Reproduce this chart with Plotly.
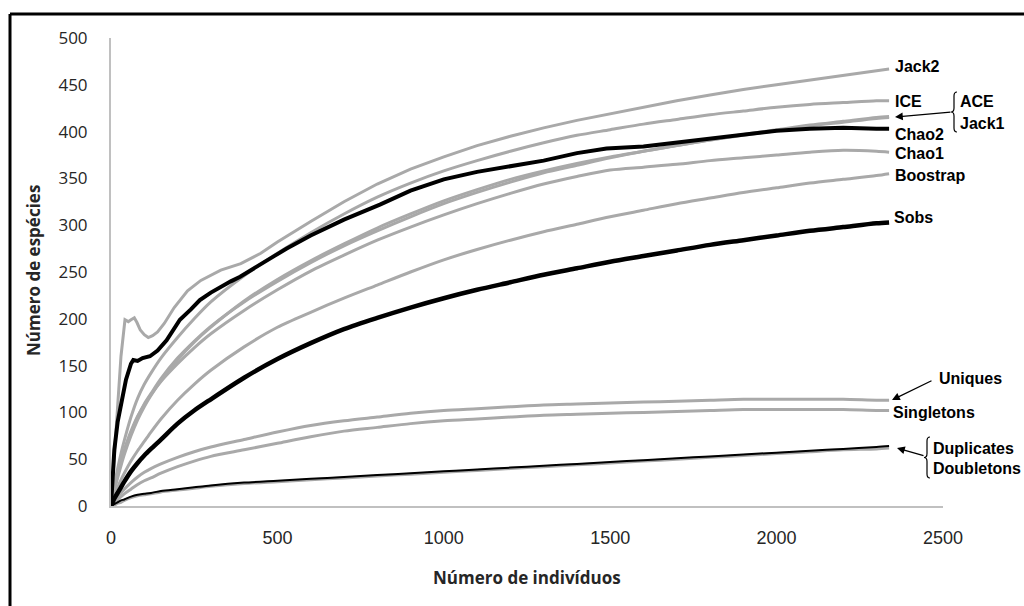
import plotly.graph_objects as go

# ---------------- data ----------------
x_common = [0, 10, 20, 30, 40, 60, 80, 100, 120, 150, 200, 250, 300, 400, 500, 600, 700, 800, 900,
            1000, 1100, 1200, 1300, 1400, 1500, 1600, 1700, 1800, 1900, 2000, 2100, 2200, 2300, 2338]

sobs = [0, 8, 14, 20, 26, 37, 46, 54, 61, 71, 88, 102, 114, 137, 157, 174, 189, 201, 212,
        222, 231, 239, 247, 254, 261, 267, 273, 279, 284, 289, 294, 298, 302, 303]
boostrap = [0, 11, 20, 28, 35, 48, 59, 69, 79, 93, 113, 130, 145, 170, 191, 207, 222, 236, 250,
            263, 274, 284, 293, 301, 309, 316, 323, 329, 335, 340, 345, 349, 353, 355]
ice = [0, 22, 40, 56, 70, 95, 115, 130, 142, 158, 180, 200, 218, 246, 270, 292, 312, 330, 345,
       358, 369, 379, 388, 396, 402, 408, 413, 418, 422, 426, 429, 431, 433, 433]
ace = [0, 16, 30, 43, 55, 75, 92, 106, 118, 134, 156, 175, 191, 219, 242, 262, 280, 297, 312,
       326, 338, 349, 358, 366, 373, 379, 385, 391, 396, 401, 406, 410, 414, 415]
jack1 = [0, 18, 33, 46, 58, 78, 95, 109, 120, 136, 158, 176, 192, 218, 240, 260, 278, 294, 309,
         323, 335, 346, 356, 364, 372, 379, 385, 391, 397, 402, 407, 411, 415, 416]
chao1 = [0, 19, 35, 48, 60, 80, 96, 108, 119, 133, 152, 169, 184, 209, 231, 251, 268, 284, 298,
         311, 323, 334, 344, 352, 359, 362, 365, 369, 372, 375, 378, 380, 379, 378]
uniques = [0, 5, 10, 14, 18, 25, 31, 36, 40, 45, 52, 58, 63, 71, 79, 86, 91, 95, 99,
           102, 104, 106, 108, 109, 110, 111, 112, 113, 114, 114, 114, 114, 113, 113]
singletons = [0, 4, 7, 10, 13, 18, 23, 27, 30, 35, 42, 48, 53, 60, 67, 74, 80, 84, 88,
              91, 93, 95, 97, 98, 99, 100, 101, 102, 103, 103, 103, 103, 102, 102]
duplicates = [0, 2, 4, 6, 7, 10, 12, 13, 14, 16, 18, 20, 22, 25, 27, 29, 31, 33, 35,
              37, 39, 41, 43, 45, 47, 49, 51, 53, 55, 57, 59, 61, 63, 64]
doubletons = [0, 1, 3, 4, 6, 9, 11, 12, 13, 15, 17, 19, 21, 24, 26, 28, 30, 32, 34,
              36, 38, 40, 42, 44, 46, 48, 50, 52, 54, 56, 58, 60, 61, 62]

jack2_x = [0, 15, 30, 42, 52, 60, 70, 78, 88, 100, 112, 125, 140, 160, 190, 230, 270, 330, 390, 450,
           500, 600, 700, 800, 900, 1000, 1100, 1200, 1300, 1400, 1500, 1600, 1700, 1800, 1900,
           2000, 2100, 2200, 2300, 2338]
jack2 = [0, 80, 160, 199, 197, 199, 201, 196, 188, 183, 180, 182, 186, 195, 212, 230, 241, 252, 259, 270,
         282, 304, 325, 344, 360, 373, 385, 395, 404, 412, 419, 426, 433, 439, 445,
         450, 455, 460, 465, 467]

chao2_x = [0, 10, 20, 32, 45, 60, 67, 80, 95, 117, 140, 167, 190, 207, 240, 267, 300, 328, 360, 388,
           420, 448, 490, 528, 600, 700, 808, 900, 1000, 1100, 1200, 1300, 1400, 1489, 1600, 1700,
           1800, 1900, 2000, 2100, 2200, 2300, 2338]
chao2 = [0, 60, 90, 113, 135, 152, 156, 155, 158, 160, 166, 177, 190, 199, 210, 220, 228, 234, 240, 245,
         252, 259, 267, 275, 289, 306, 322, 337, 349, 357, 363, 369, 377, 382, 384, 388,
         392, 397, 401, 403, 404, 403, 403]

y_ticks = [0, 50, 100, 150, 200, 250, 300, 350, 400, 450, 500]
x_ticks = [0, 500, 1000, 1500, 2000, 2500]

labels = ["Jack2", "ICE", "ACE", "Jack1", "Chao2", "Chao1", "Boostrap", "Sobs",
          "Uniques", "Singletons", "Duplicates", "Doubletons"]

# ---------------- styling / layout helpers ----------------
W, H = 1024, 606
L, R, T, B = 111, 943, 38, 506  # plot area in pixels
GREY = "#a9a9a9"


def px(xp):
    return (xp - L) / (R - L)


def py(yp):
    return (B - yp) / (B - T)


fig = go.Figure()


def add(xs, ys, color, width, smooth=True):
    fig.add_trace(go.Scatter(
        x=xs, y=ys, mode="lines",
        line=dict(color=color, width=width, shape="spline" if smooth else "linear",
                  smoothing=0.8 if smooth else None),
        hoverinfo="skip", showlegend=False))


add(x_common, doubletons, GREY, 3)
add(x_common, singletons, GREY, 3)
add(x_common, uniques, GREY, 3)
add(x_common, boostrap, GREY, 3)
add(x_common, chao1, GREY, 3)
add(x_common, jack1, GREY, 3)
add(x_common, ace, GREY, 3)
add(x_common, ice, GREY, 3)
add(jack2_x, jack2, GREY, 3, smooth=False)
add(x_common, duplicates, "black", 2)
add(x_common, sobs, "black", 4.5)
add(chao2_x, chao2, "black", 4, smooth=False)

LABEL_FONT = dict(family="Liberation Sans, Arial, sans-serif", size=16, color="black")
label_pos = {
    "Jack2": (893, 66), "ICE": (893, 102), "ACE": (958, 102), "Jack1": (958, 123),
    "Chao2": (893, 134), "Chao1": (893, 153), "Boostrap": (893, 176), "Sobs": (892, 218),
    "Uniques": (937, 378), "Singletons": (891, 412), "Duplicates": (931, 448),
    "Doubletons": (931, 468),
}
annotations = []
for name in labels:
    xp_, yp_ = label_pos[name]
    annotations.append(dict(x=px(xp_), y=py(yp_), xref="paper", yref="paper",
                            text="<b>%s</b>" % name, showarrow=False,
                            xanchor="left", yanchor="middle", font=LABEL_FONT))

# arrows (head at x,y ; tail offset ax,ay in pixels)
for (hx, hy, tx, ty) in [(895, 117, 952, 112), (892, 400, 933, 380), (897, 448, 925, 456)]:
    annotations.append(dict(x=px(hx), y=py(hy), xref="paper", yref="paper", text="",
                            showarrow=True, ax=tx - hx, ay=ty - hy, arrowhead=2,
                            arrowsize=1.2, arrowwidth=1.3, arrowcolor="black"))

# axis titles
annotations.append(dict(x=px(33), y=py(271), xref="paper", yref="paper",
                        xanchor="center", yanchor="middle",
                        text="<b>Número de espécies</b>", textangle=-90, showarrow=False,
                        font=dict(family="Open Sans, sans-serif", size=17, color="#262626")))
annotations.append(dict(x=px(527), y=py(577), xref="paper", yref="paper",
                        xanchor="center", yanchor="middle",
                        text="<b>Número de indivíduos</b>", showarrow=False,
                        font=dict(family="Open Sans, sans-serif", size=17, color="#262626")))


def brace(xr, y0, y1, depth=6):
    xm = xr - depth / 2
    xt = xr - depth
    ym = (y0 + y1) / 2
    pts = [
        ("M", [(xr, y0)]),
        ("Q", [(xm, y0), (xm, y0 + 4)]),
        ("L", [(xm, ym - 4)]),
        ("Q", [(xm, ym), (xt, ym)]),
        ("Q", [(xm, ym), (xm, ym + 4)]),
        ("L", [(xm, y1 - 4)]),
        ("Q", [(xm, y1), (xr, y1)]),
    ]
    s = ""
    for cmd, ps in pts:
        s += cmd + " " + " ".join("%f,%f" % (px(a), py(b)) for a, b in ps) + " "
    return s


shapes = [
    # outer frame (top + left)
    dict(type="line", xref="paper", yref="paper", x0=px(10), x1=px(1030), y0=py(14), y1=py(14),
         line=dict(color="black", width=3)),
    dict(type="line", xref="paper", yref="paper", x0=px(10), x1=px(10), y0=py(14), y1=py(610),
         line=dict(color="black", width=3)),
    dict(type="path", xref="paper", yref="paper", path=brace(957, 92, 132),
         line=dict(color="black", width=1.2)),
    dict(type="path", xref="paper", yref="paper", path=brace(930, 437, 478),
         line=dict(color="black", width=1.2)),
]

fig.update_layout(
    width=W, height=H,
    margin=dict(l=L, r=W - R, t=T, b=H - B, pad=0),
    paper_bgcolor="white", plot_bgcolor="white",
    annotations=annotations, shapes=shapes,
    xaxis=dict(range=[0, 2500], tickvals=x_ticks, showgrid=False, zeroline=False,
               showline=True, linecolor="#c0c0c0", linewidth=2, ticks="",
               ticklabelstandoff=14,
               tickfont=dict(family="Liberation Sans, Arial, sans-serif", size=18, color="#262626")),
    yaxis=dict(range=[0, 500], tickvals=y_ticks, showgrid=False, zeroline=False,
               showline=True, linecolor="#c0c0c0", linewidth=2, ticks="",
               ticklabelstandoff=18,
               tickfont=dict(family="Open Sans, sans-serif", size=17, color="#262626")),
)

fig.write_html("out.html")
